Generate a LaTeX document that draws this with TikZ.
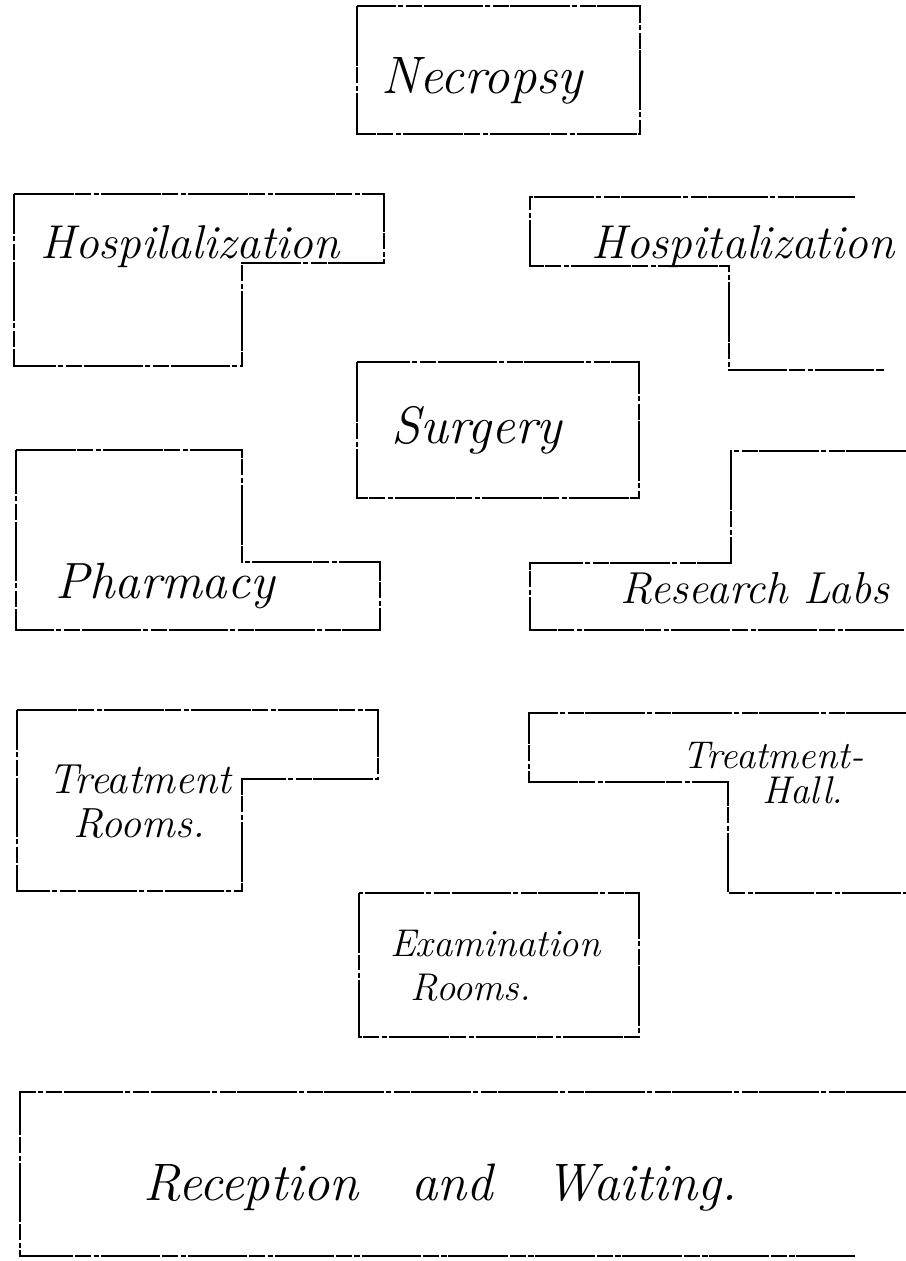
\documentclass[tikz,border=0pt]{standalone}
\usepackage{tikz}

\begin{document}
\begin{tikzpicture}[x=0.02cm, y=-0.02cm,
                wall/.style = {line width=1.6pt, dash pattern=on 34pt off 1pt on 9pt off 1.5pt on 3pt off 1pt},
                room/.style = {inner sep=0pt, anchor=base, font=\fontsize{#1}{#1}\selectfont\itshape},
                room/.default = 30,
                note/.style = {inner sep=0pt, anchor=north west, align=left, font=\fontsize{#1}{25}\selectfont\itshape},
                note/.default = 24]
                \useasboundingbox (0,0) rectangle (906,1261);
                \draw[wall] (357,6) rectangle (640,134);
                \draw[wall] (14,194) -- (384,194) -- (384,263) -- (242,263) -- (242,366) -- (14,366) -- cycle;
                \draw[wall] (855,197) -- (530,197) -- (530,266) -- (729,266) -- (729,370) -- (884,370);
                \draw[wall] (357,362) rectangle (639,498);
                \draw[wall] (16,450) -- (242,450) -- (242,562) -- (380,562) -- (380,630) -- (16,630) -- cycle;
                \draw[wall] (906,451) -- (731,451) -- (731,563) -- (530,563) -- (530,630) -- (906,630);
                \draw[wall] (17,710) -- (378,710) -- (378,779) -- (242,779) -- (242,891) -- (17,891) -- cycle;
                \draw[wall] (906,713) -- (529,713) -- (529,782) -- (728,782) -- (728,893) -- (906,893);
                \draw[wall] (359,893) rectangle (639,1037);
                \draw[wall] (906,1092) -- (20,1092) -- (20,1256) -- (855,1256);
                \node[room] (necropsy) at (482,93) {Necropsy};
                \node[room=27] (hospleft) at (190,258) {Hospilalization};
                \node[room=27] (hospright) at (743,258) {Hospitalization};
                \node[room] (surgery) at (477,443) {Surgery};
                \node[room=29] (pharmacy) at (165,598) {Pharmacy};
                \node[room=25.5] (labs) at (755,603) {Research Labs};
                \node[note] (treatrooms) at (48,765) {Treatment\\\hspace*{0.5cm}Rooms.};
                \node[note=22] (treathall) at (682,742) {Treatment-\\[-5pt]\hspace*{1.6cm}Hall.};
                \node[note=22] (exam) at (390,930) {Examination\\\hspace*{0.4cm}Rooms.};
                \node[room] (reception) at (440,1200) {Reception\quad and\quad Waiting.};
\end{tikzpicture}
\end{document}
